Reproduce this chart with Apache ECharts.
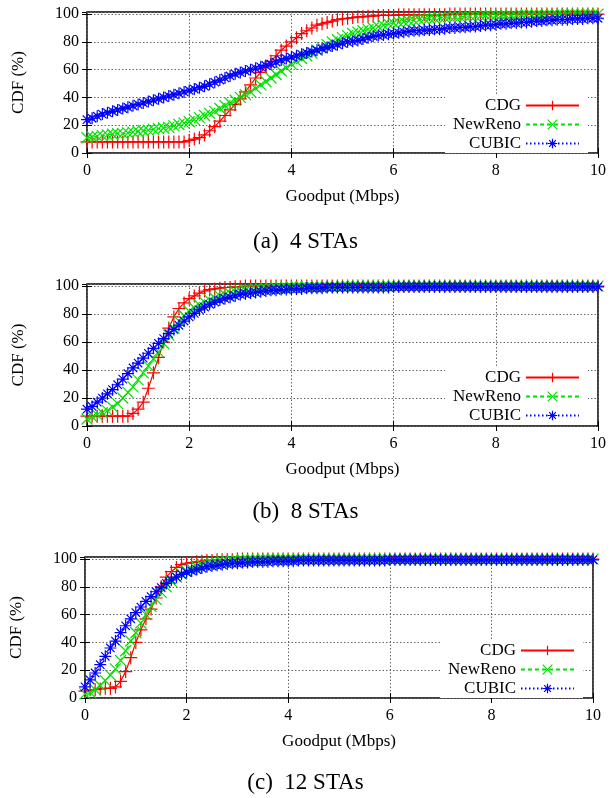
<!DOCTYPE html>
<html><head><meta charset="utf-8">
<script src="https://cdn.jsdelivr.net/npm/echarts@6/dist/echarts.min.js"></script>
<style>html,body{margin:0;padding:0;background:#fff}#c{width:611px;height:798px}</style>
</head><body><div id="c"></div>
<script>
// Goodput sample grid (Mbps)
const goodput = [0,0.1,0.2,0.3,0.4,0.5,0.6,0.7,0.8,0.9,
 1,1.1,1.2,1.3,1.4,1.5,1.6,1.7,1.8,1.9,
 2,2.1,2.2,2.3,2.4,2.5,2.6,2.7,2.8,2.9,
 3,3.1,3.2,3.3,3.4,3.5,3.6,3.7,3.8,3.9,
 4,4.1,4.2,4.3,4.4,4.5,4.6,4.7,4.8,4.9,
 5,5.1,5.2,5.3,5.4,5.5,5.6,5.7,5.8,5.9,
 6,6.1,6.2,6.3,6.4,6.5,6.6,6.7,6.8,6.9,
 7,7.1,7.2,7.3,7.4,7.5,7.6,7.7,7.8,7.9,
 8,8.1,8.2,8.3,8.4,8.5,8.6,8.7,8.8,8.9,
 9,9.1,9.2,9.3,9.4,9.5,9.6,9.7,9.8,9.9,
 10];

// (a) 4 STAs
const cdg4 = [8,8,8,8,8,8,8,8,8,8,
 8,8,8,8,8,8,8,8,8,8,
 9,10,11,13,16,19,23,27,31,35,
 39,44,49,54,58,62,66,70,74,77,
 80,83,86,88,90,92,93,94,95,96,
 96.5,97,97.5,98,98,98.5,98.5,99,99,99,
 99,99.5,99.5,99.5,99.5,99.5,99.5,99.5,99.5,99.5,
 99.5,100,100,100,100,100,100,100,100,100,
 100,100,100,100,100,100,100,100,100,100,
 100,100,100,100,100,100,100,100,100,100,
 100];
const newreno4 = [11,11.5,12,12.5,13,13.5,14,14,14.5,15,
 15.5,16,16.5,17,17.5,18,18.5,19.5,20.5,21.5,
 22.5,24,25.5,27,28.5,30,32,34,36,38,
 40,42,44,46.5,49,51.5,54,56.5,59,61.5,
 64,66,68,70,72,74,76,78,80,81.5,
 83,84.5,86,87,88,89,90,91,92,93,
 93.5,94,94.5,95,95.5,96,96.5,97,97,97.5,
 97.5,98,98,98,98.5,98.5,98.5,98.5,99,99,
 99,99,99,99,99,99.5,99.5,99.5,99.5,99.5,
 99.5,99.5,99.5,100,100,100,100,100,100,100,
 100];
const cubic4 = [24,25,26.5,28,29,30,31,32,33,34,
 35,36,37,38,39,40,41,42,43,44,
 45,46,47,48,49.5,51,52.5,54,55.5,57,
 58,59,60,61,62,63,64,65.5,67,68,
 69,70,71,72,73,74,75,76,77,78,
 79,80,80.5,81,82,83,84,84.5,85,85.5,
 86,86.5,87,87.5,88,88,88.5,88.5,89,89,
 89.5,90,90,90.5,90.5,91,91,91.5,92,92,
 92.5,93,93,93.5,93.5,94,94,94.5,95,95,
 95.5,95.5,96,96,96,96.5,96.5,96.5,97,97,
 97];

// (b) 8 STAs
const cdg8 = [7,7,7,7,7,7,7,7,7,9,
 12,17,27,38,49,60,70,78,84,88,
 91,93,95,96.5,97.5,98,98.5,99,99,99.5,
 99.5,100,100,100,100,100,100,100,100,100,
 100,100,100,100,100,100,100,100,100,100,
 100,100,100,100,100,100,100,100,100,100,
 100,100,100,100,100,100,100,100,100,100,
 100,100,100,100,100,100,100,100,100,100,
 100,100,100,100,100,100,100,100,100,100,
 100,100,100,100,100,100,100,100,100,100,
 100];
const newreno8 = [5,6.5,8,9.5,11,13.5,16,20,24,28,
 33,38,43,48,53,59,65,70,75,79,
 82,84.5,86.5,88.5,90,91.5,93,94,95,96,
 96.5,97,97.5,98,98,98.5,98.5,99,99,99,
 99.5,99.5,99.5,99.5,99.5,99.5,99.5,99.5,99.5,99.5,
 100,100,100,100,100,100,100,100,100,100,
 100,100,100,100,100,100,100,100,100,100,
 100,100,100,100,100,100,100,100,100,100,
 100,100,100,100,100,100,100,100,100,100,
 100,100,100,100,100,100,100,100,100,100,
 100];
const cubic8 = [12,14,17,20,23,26,29.5,33.5,37.5,41.5,
 45,48.5,52,55.5,59,62.5,66,69,72,75,
 78,80.5,83,85,87,88.5,90,91,92,93,
 94,94.5,95,95.5,96,96.5,97,97,97.5,97.5,
 98,98,98,98.5,98.5,98.5,98.5,99,99,99,
 99,99,99,99,99,99,99,99,99,99,
 99.5,99.5,99.5,99.5,99.5,99.5,99.5,99.5,99.5,99.5,
 99.5,99.5,99.5,99.5,99.5,99.5,99.5,99.5,99.5,99.5,
 99.5,99.5,99.5,99.5,99.5,99.5,99.5,99.5,99.5,99.5,
 99.5,99.5,99.5,99.5,99.5,99.5,99.5,99.5,99.5,99.5,
 99.5];

// (c) 12 STAs
const cdg12 = [5,6,6,6.5,7,7,8,12,19,29,
 40,49,57,64,72,80,87,91,94,96,
 97,97.5,98,98.5,99,99,99.5,99.5,99.5,99.5,
 100,100,100,100,100,100,100,100,100,100,
 100,100,100,100,100,100,100,100,100,100,
 100,100,100,100,100,100,100,100,100,100,
 100,100,100,100,100,100,100,100,100,100,
 100,100,100,100,100,100,100,100,100,100,
 100,100,100,100,100,100,100,100,100,100,
 100,100,100,100,100,100,100,100,100,100,
 100];
const newreno12 = [3,4,6,9,12.5,16.5,21,27,34,41,
 47,54,60,66,71,76,80,84,87,89.5,
 91.5,93,94.5,95.5,96.5,97,97.5,98,98.5,99,
 99,99.5,99.5,99.5,99.5,100,100,100,100,100,
 100,100,100,100,100,100,100,100,100,100,
 100,100,100,100,100,100,100,100,100,100,
 100,100,100,100,100,100,100,100,100,100,
 100,100,100,100,100,100,100,100,100,100,
 100,100,100,100,100,100,100,100,100,100,
 100,100,100,100,100,100,100,100,100,100,
 100];
const cubic12 = [8,13,18,24,30,36,41,47,52,57,
 61.5,65.5,69.5,73,76.5,79.5,82.5,85,87,89,
 90.5,91.5,92.5,93.5,94.5,95,95.5,96,96.5,97,
 97,97.5,97.5,98,98,98,98,98.5,98.5,98.5,
 98.5,98.5,99,99,99,99,99,99,99,99,
 99,99,99,99,99,99,99,99,99,99,
 99.5,99.5,99.5,99.5,99.5,99.5,99.5,99.5,99.5,99.5,
 99.5,99.5,99.5,99.5,99.5,99.5,99.5,99.5,99.5,99.5,
 99.5,99.5,99.5,99.5,99.5,99.5,99.5,99.5,99.5,99.5,
 99.5,99.5,99.5,99.5,99.5,99.5,99.5,99.5,99.5,99.5,
 99.5];

const seriesNames = ['CDG', 'NewReno', 'CUBIC'];
const captions = ['(a)  4 STAs', '(b)  8 STAs', '(c)  12 STAs'];
const xAxisTitle = 'Goodput (Mbps)';
const yAxisTitle = 'CDF (%)';
const panelSeries = [[cdg4, newreno4, cubic4], [cdg8, newreno8, cubic8], [cdg12, newreno12, cubic12]];

// ---- layout & styles ----
const FONT = 'Liberation Serif';
const layout = [
  {left: 87, right: 13, top: 12, height: 141, legendTop: 94, legendRight: 23, capTop: 230},
  {left: 87, right: 13, top: 284, height: 142, legendTop: 366, legendRight: 23, capTop: 500},
  {left: 82, right: 18, top: 557, height: 141, legendTop: 639, legendRight: 28, capTop: 771}
];
const styles = [
  {color: '#ff0000', dash: 'solid', symbol: 'path://M0,5L10,5M5,0L5,10', size: 13},
  {color: '#00e000', dash: [4, 3], symbol: 'path://M0,0L10,10M10,0L0,10', size: 11},
  {color: '#0000ff', dash: [1.5, 2.5], symbol: 'path://M0,5L10,5M5,0L5,10M1.5,1.5L8.5,8.5M8.5,1.5L1.5,8.5', size: 12}
];

const grids = [], xAxes = [], yAxes = [], series = [], legends = [], titles = [];
layout.forEach((L, p) => {
  grids.push({left: L.left, right: L.right, top: L.top, height: L.height, show: true,
    borderColor: '#000', borderWidth: 1.5, backgroundColor: 'transparent', containLabel: false});
  const tick = {show: true, inside: true, length: 5, lineStyle: {color: '#000', width: 1}};
  xAxes.push({type: 'value', gridIndex: p, min: 0, max: 10, interval: 2, position: 'bottom',
    axisLine: {show: false}, axisTick: tick,
    axisLabel: {color: '#000', fontSize: 16, fontFamily: FONT, margin: 10},
    splitLine: {show: true, lineStyle: {color: '#666', type: [1.5, 2], width: 1}},
    name: xAxisTitle, nameLocation: 'middle', nameGap: 35,
    nameTextStyle: {color: '#000', fontSize: 17, fontFamily: FONT}});
  xAxes.push({type: 'value', gridIndex: p, min: 0, max: 10, interval: 2, position: 'top',
    axisLine: {show: false}, axisTick: tick, axisLabel: {show: false}, splitLine: {show: false}});
  yAxes.push({type: 'value', gridIndex: p, min: 0, max: 101.5, interval: 20, position: 'left',
    axisLine: {show: false}, axisTick: tick,
    axisLabel: {color: '#000', fontSize: 16, fontFamily: FONT, margin: 8, showMaxLabel: false,
      formatter: v => (v > 100 ? '' : String(v))},
    splitLine: {show: true, lineStyle: {color: '#666', type: [1.5, 2], width: 1}},
    name: yAxisTitle, nameLocation: 'middle', nameGap: 60,
    nameTextStyle: {color: '#000', fontSize: 17, fontFamily: FONT}});
  yAxes.push({type: 'value', gridIndex: p, min: 0, max: 101.5, interval: 20, position: 'right',
    axisLine: {show: false}, axisTick: tick, axisLabel: {show: false}, splitLine: {show: false}});
  panelSeries[p].forEach((arr, k) => {
    const s = styles[k];
    series.push({
      type: 'line', name: seriesNames[k], xAxisIndex: p * 2, yAxisIndex: p * 2,
      data: goodput.map((x, i) => [x, arr[i]]),
      symbol: s.symbol, symbolSize: s.size, showSymbol: true, showAllSymbol: true,
      lineStyle: {color: s.color, width: 1.2, type: s.dash},
      itemStyle: {color: 'none', borderColor: s.color, borderWidth: 1.2},
      emphasis: {disabled: true}, silent: true, clip: true, z: 2 + k
    });
  });
  legends.push({
    data: seriesNames, orient: 'vertical', align: 'right', right: L.legendRight, top: L.legendTop,
    itemWidth: 53, itemHeight: 12, itemGap: 2, padding: [3, 8, 1, 8], backgroundColor: '#fff',
    selectedMode: false, z: 10,
    itemStyle: {color: 'transparent', borderWidth: 1.2},
    textStyle: {color: '#000', fontSize: 17, fontFamily: FONT, lineHeight: 16}
  });
  titles.push({text: captions[p], left: 'center', top: L.capTop, padding: 0,
    textStyle: {color: '#000', fontSize: 23, fontWeight: 'normal', fontFamily: FONT}});
});

const chart = echarts.init(document.getElementById('c'), null, {renderer: 'canvas'});
chart.setOption({
  animation: false,
  backgroundColor: '#fff',
  title: titles,
  grid: grids,
  xAxis: xAxes,
  yAxis: yAxes,
  legend: legends,
  series: series
});
</script>
</body></html>
